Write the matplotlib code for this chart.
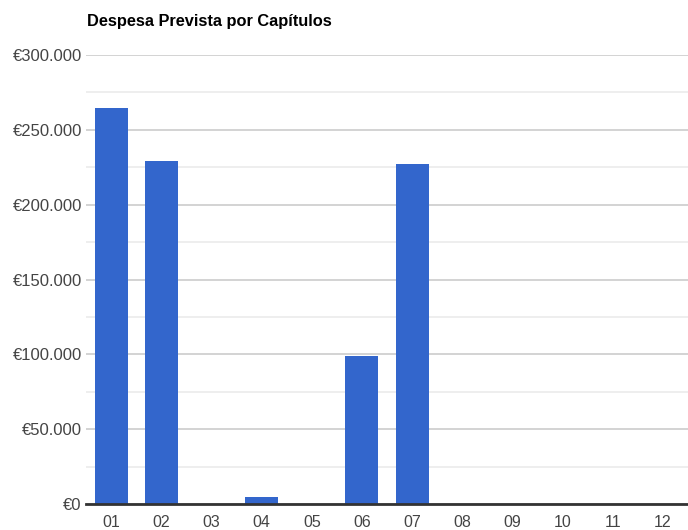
import numpy as np
import matplotlib.pyplot as plt
from matplotlib.ticker import FuncFormatter, MultipleLocator

plt.rcParams['font.family'] = ['Liberation Sans', 'DejaVu Sans']

capitulos = ['01', '02', '03', '04', '05', '06', '07', '08', '09', '10', '11', '12']
despesa = [264700, 229500, 0, 4800, 0, 98700, 227500, 0, 0, 0, 0, 0]


def euros(v, pos):
    return '€' + '{:,.0f}'.format(v).replace(',', '.')


fig = plt.figure(figsize=(6.88, 5.30), dpi=100)
ax = fig.add_axes([86 / 688, 26 / 530, 602 / 688, 449 / 530])

x = np.arange(len(capitulos))
ax.bar(x, despesa, width=0.66, color='#3366cc', zorder=3)

ax.set_xlim(-0.5, len(capitulos) - 0.5)
ax.set_ylim(0, 300000)
ax.yaxis.set_major_locator(MultipleLocator(50000))
ax.yaxis.set_minor_locator(MultipleLocator(25000))
ax.yaxis.set_major_formatter(FuncFormatter(euros))
ax.grid(axis='y', which='major', color='#cccccc', linewidth=1.2, zorder=0)
ax.grid(axis='y', which='minor', color='#ebebeb', linewidth=1.2, zorder=0)

ax.set_xticks(x)
ax.set_xticklabels(capitulos)
ax.tick_params(axis='both', which='both', length=0, labelcolor='#444444')
ax.tick_params(axis='x', pad=8, labelsize=11.5)
ax.tick_params(axis='y', pad=3, labelsize=12)

for s in ['top', 'right', 'left']:
    ax.spines[s].set_visible(False)
ax.spines['bottom'].set_color('#333333')
ax.spines['bottom'].set_linewidth(2)
ax.spines['bottom'].set_zorder(4)

fig.text(87 / 688, 1 - 26 / 530, 'Despesa Prevista por Capítulos', fontsize=11.8,
         fontweight='bold', color='#000000', ha='left', va='baseline')

fig.savefig('out.png', dpi=100)
